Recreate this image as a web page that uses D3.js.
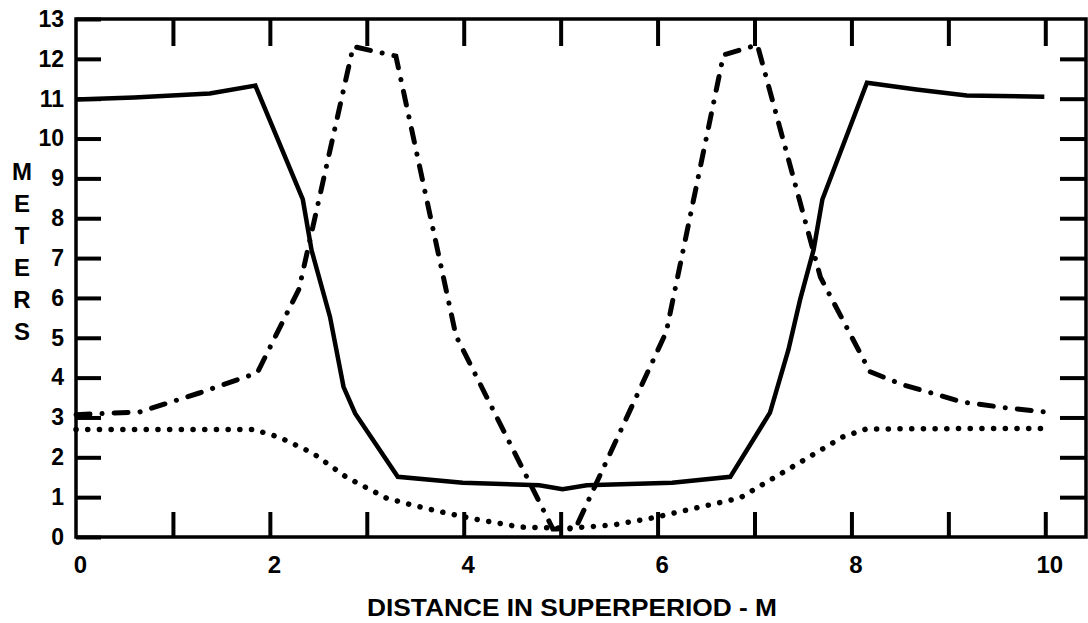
<!DOCTYPE html>
<html>
<head>
<meta charset="utf-8">
<script src="https://cdn.jsdelivr.net/npm/d3@7"></script>
<style>
  html, body { margin: 0; padding: 0; background: #fff; }
  svg { display: block; }
  text { font-family: "Liberation Sans", Arial, Helvetica, sans-serif; font-weight: bold; fill: #000; }
</style>
</head>
<body>
<svg id="chart" width="1088" height="623"></svg>
<script>
// Tick values and labels
const xTickValues = [0, 1, 2, 3, 4, 5, 6, 7, 8, 9, 10];
const xLabelValues = [0, 2, 4, 6, 8, 10];
const yTickValues = [0, 1, 2, 3, 4, 5, 6, 7, 8, 9, 10, 11, 12, 13];
const xDomain = [0, 10.42];
const yDomain = [0, 13];
const yTitleLetters = ["M", "E", "T", "E", "R", "S"];
const xTitle = "DISTANCE IN SUPERPERIOD - M";

// Solid curve: [distance, meters]
const solidSeries = [
  [0, 10.98], [0.6, 11.03], [1.38, 11.13], [1.85, 11.33], [2.34, 8.47], [2.43, 7.2],
  [2.62, 5.53], [2.76, 3.77], [2.88, 3.1], [3.32, 1.51], [3.99, 1.36], [4.78, 1.3],
  [5.02, 1.2], [5.27, 1.3], [6.15, 1.36], [6.75, 1.51], [7.16, 3.12], [7.35, 4.7],
  [7.47, 5.95], [7.61, 7.21], [7.70, 8.47], [8.16, 11.4], [8.67, 11.23], [9.19, 11.08],
  [9.99, 11.05]
];

// Dash-dot curve
const dashDotSeries = [
  [0, 3.07], [0.66, 3.14], [1.28, 3.62], [1.87, 4.12], [2.3, 6.22], [2.86, 12.31],
  [3.3, 12.07], [3.92, 5.05], [4.92, 0.2], [5.15, 0.2], [6.09, 5.15], [6.68, 12.1],
  [7.03, 12.35], [7.68, 6.52], [8.19, 4.15], [8.53, 3.82], [8.89, 3.57], [9.14, 3.39],
  [9.6, 3.24], [9.99, 3.14]
];

// Dotted curve
const dottedSeries = [
  [0, 2.7], [1.0, 2.7], [1.83, 2.7], [2.1, 2.5], [2.44, 2.11], [2.79, 1.5], [3.2, 0.98],
  [3.47, 0.8], [3.82, 0.6], [4.16, 0.43], [4.58, 0.25], [5.06, 0.22], [5.54, 0.3],
  [5.95, 0.48], [6.4, 0.73], [6.85, 0.98], [7.91, 2.51], [8.15, 2.71], [9.0, 2.72],
  [10, 2.72]
];

const svg = d3.select("#chart");
const x = d3.scaleLinear().domain(xDomain).range([76, 1086]);
const y = d3.scaleLinear().domain(yDomain).range([537, 19]);

// Ticks on all four sides, pointing inward
const tickStroke = 4;
function styleAxis(g) {
  g.select(".domain").remove();
  g.selectAll(".tick line").attr("stroke", "#000").attr("stroke-width", tickStroke);
  g.selectAll(".tick text").style("font-size", "23px").attr("fill", "#000");
}

svg.append("g")
  .attr("transform", `translate(${x(0)},0)`)
  .call(d3.axisLeft(y).tickValues(yTickValues).tickSize(-25).tickPadding(12).tickFormat(d3.format("d")))
  .call(styleAxis);

svg.append("g")
  .attr("transform", `translate(${x(xDomain[1])},0)`)
  .call(d3.axisRight(y).tickValues(yTickValues.slice(1, -1)).tickSize(-26).tickFormat(""))
  .call(styleAxis);

svg.append("g")
  .attr("transform", `translate(0,${y(0)})`)
  .call(d3.axisBottom(x).tickValues(xTickValues.slice(1)).tickSize(-25).tickFormat(""))
  .call(styleAxis);

svg.append("g")
  .attr("transform", `translate(0,${y(13)})`)
  .call(d3.axisTop(x).tickValues(xTickValues.slice(1)).tickSize(-27).tickFormat(""))
  .call(styleAxis);

// x labels (every other unit)
svg.append("g")
  .attr("transform", `translate(0,${y(0)})`)
  .call(d3.axisBottom(x).tickValues(xLabelValues).tickSize(0).tickPadding(19).tickFormat(d3.format("d")))
  .call(g => {
    g.select(".domain").remove();
    g.selectAll(".tick text").style("font-size", "24px").attr("fill", "#000").attr("dx", 4);
  });

// Frame
svg.append("rect")
  .attr("x", x(0)).attr("y", y(13))
  .attr("width", x(xDomain[1]) - x(0)).attr("height", y(0) - y(13))
  .attr("fill", "none").attr("stroke", "#000").attr("stroke-width", 3.5);

// Curves
const line = d3.line().x(d => x(d[0])).y(d => y(d[1]));

svg.append("path").datum(solidSeries)
  .attr("d", line).attr("fill", "none").attr("stroke", "#000")
  .attr("stroke-width", 4.5).attr("stroke-linejoin", "miter");

svg.append("path").datum(dashDotSeries)
  .attr("d", line).attr("fill", "none").attr("stroke", "#000")
  .attr("stroke-width", 5).attr("stroke-linecap", "round")
  .attr("stroke-dasharray", "14 12 0.1 12");

svg.append("path").datum(dottedSeries)
  .attr("d", line).attr("fill", "none").attr("stroke", "#000")
  .attr("stroke-width", 5.5).attr("stroke-linecap", "round")
  .attr("stroke-dasharray", "0.1 11.6");

// Vertical y title, stacked letters
svg.append("g").selectAll("text").data(yTitleLetters).join("text")
  .attr("x", 22)
  .attr("y", (d, i) => 171 + i * 32)
  .attr("dy", "0.36em")
  .attr("text-anchor", "middle")
  .style("font-size", "24px")
  .text(d => d);

// x title
svg.append("text")
  .attr("x", 572).attr("y", 616)
  .attr("text-anchor", "middle")
  .attr("textLength", 410).attr("lengthAdjust", "spacingAndGlyphs")
  .style("font-size", "24px")
  .text(xTitle);
</script>
</body>
</html>
